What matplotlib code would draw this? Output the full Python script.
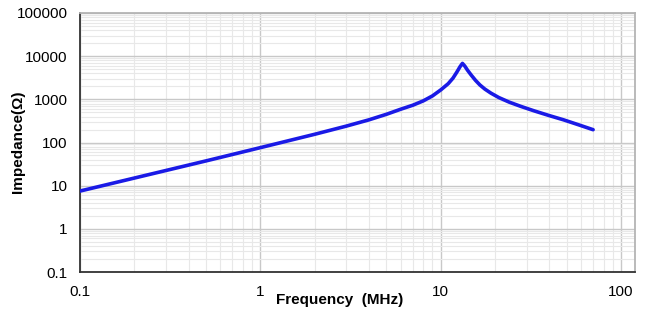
import numpy as np
import matplotlib
matplotlib.use("Agg")
import matplotlib.pyplot as plt
import matplotlib.ticker as mticker

plt.rcParams['font.family'] = ['Liberation Sans', 'DejaVu Sans']

# values
freq_mhz = [0.1, 0.2, 0.5, 1.0, 2.0, 3.0, 4.0, 5.0, 6.0, 7.0, 8.0, 9.0,
            10.0, 11.0, 11.7, 12.3, 12.8, 13.2, 13.6, 14.1, 14.8, 15.6,
            16.5, 17.6, 19.0, 21.0, 24.0, 28.0, 33.0, 40.0, 48.0, 58.0,
            70.0]
impedance = [7.5, 15, 37.5, 76, 155, 240, 335, 450, 590, 730, 920, 1200,
             1650, 2300, 3100, 4300, 5700, 6800, 5900, 4700, 3600, 2750,
             2150, 1720, 1390, 1100, 860, 680, 540, 420, 335, 258,
             198]

x_ticks = [0.1, 1, 10, 100]
x_labels = ["0.1", "1", "10", "100"]
y_ticks = [0.1, 1, 10, 100, 1000, 10000, 100000]
y_labels = ["0.1", "1", "10", "100", "1000", "10000", "100000"]

fig = plt.figure(figsize=(6.46, 3.2), dpi=100)
ax = fig.add_axes([80/646, 1-272/320, 555/646, 259/320])

ax.plot(freq_mhz, impedance, color='#1a1ae6', lw=2.6, solid_capstyle='round',
        solid_joinstyle='round', zorder=3)

ax.set_xscale('log')
ax.set_yscale('log')
ax.set_xlim(0.1, 119.5)
ax.set_ylim(0.1, 100000)

ax.xaxis.set_major_locator(mticker.FixedLocator(x_ticks))
ax.xaxis.set_major_formatter(mticker.FixedFormatter(x_labels))
ax.yaxis.set_major_locator(mticker.FixedLocator(y_ticks))
ax.yaxis.set_major_formatter(mticker.FixedFormatter(y_labels))
ax.xaxis.set_minor_locator(mticker.LogLocator(base=10, subs=np.arange(2, 10), numticks=20))
ax.yaxis.set_minor_locator(mticker.LogLocator(base=10, subs=np.arange(2, 10), numticks=20))
ax.xaxis.set_minor_formatter(mticker.NullFormatter())
ax.yaxis.set_minor_formatter(mticker.NullFormatter())

ax.grid(True, which='major', color='#c8c8c8', lw=1.0)
ax.grid(True, which='minor', color='#e8e8e8', lw=0.8)
ax.set_axisbelow(True)

ax.tick_params(which='both', length=0, labelsize=11, colors='black')
ax.tick_params(axis='x', pad=9)
ax.tick_params(axis='y', pad=9)

for s in ('left', 'bottom'):
    ax.spines[s].set_color('#333333')
    ax.spines[s].set_linewidth(1.3)
for s in ('top', 'right'):
    ax.spines[s].set_color('#b4b4b4')
    ax.spines[s].set_linewidth(1.3)

fig.text(340/646, 1-300/320, "Frequency  (MHz)", ha='center', va='center',
         fontsize=11, fontweight='bold')
fig.text(18/646, 1-142/320, "Impedance(Ω)", ha='center', va='center',
         rotation=90, fontsize=11, fontweight='bold')

fig.savefig("out.png", dpi=100)
